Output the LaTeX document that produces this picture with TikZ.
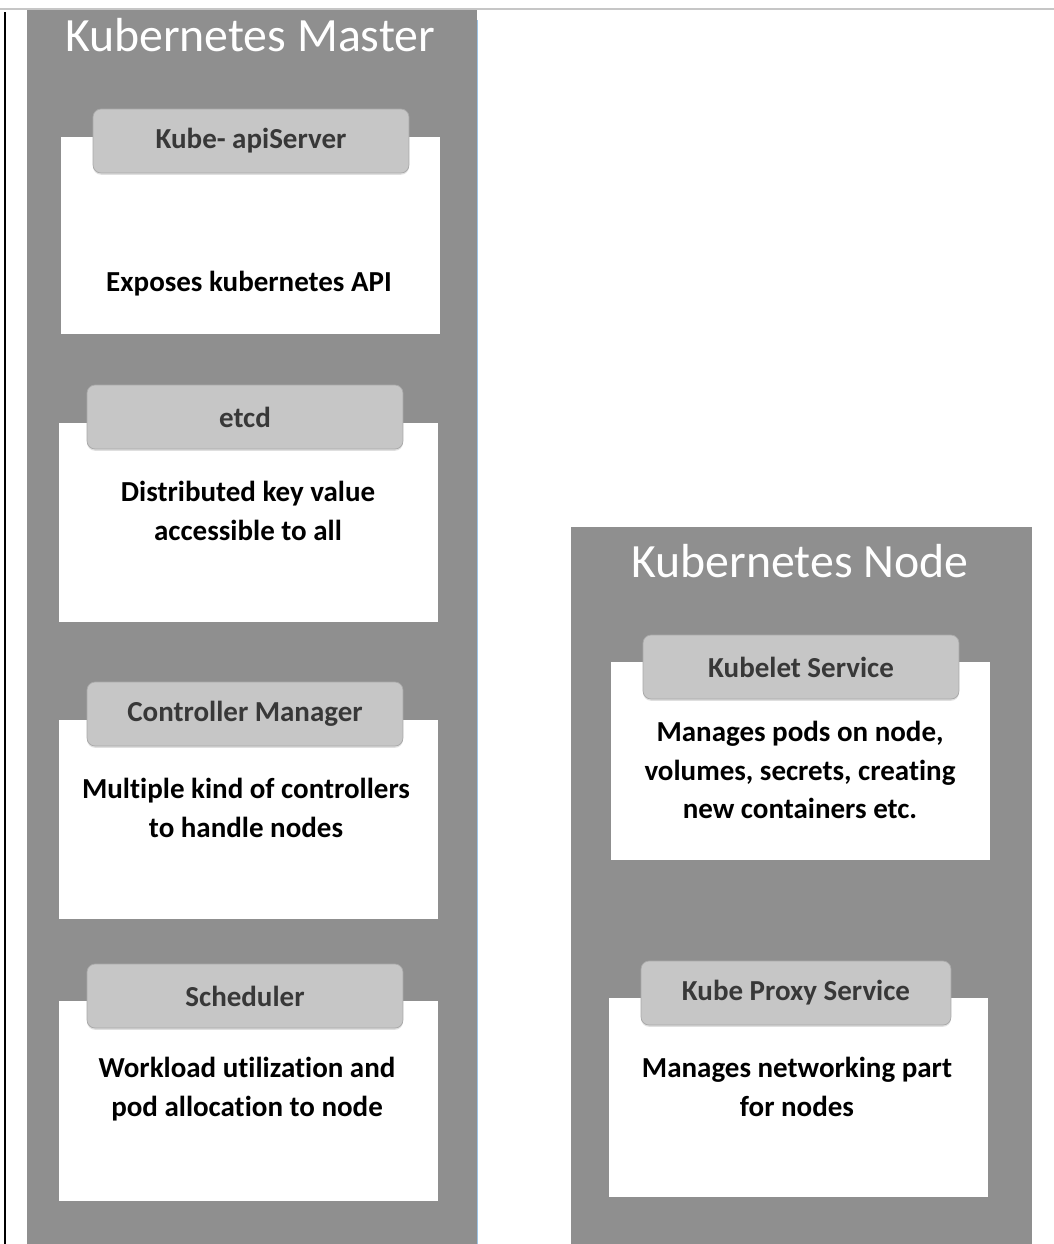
\documentclass[tikz,border=0pt]{standalone}
\usepackage{fontspec}
\setmainfont{Carlito}[Ligatures = NoCommon]
\usetikzlibrary{positioning, shadows}

\definecolor{panelgray}{HTML}{8F8F8F}
\definecolor{tabgray}{HTML}{C6C6C6}
\definecolor{tabedge}{HTML}{A9A9A9}
\definecolor{tabtext}{HTML}{383838}
\definecolor{edgeblue}{HTML}{9CC3E5}

\begin{document}
\begin{tikzpicture}[x = 0.02cm, y = -0.02cm,
						panel/.style = {fill = panelgray},
						bodybox/.style = {fill = white},
						tab/.style = {fill = tabgray, draw = tabedge, line width = 0.4pt,
							rounded corners = 0.16cm, minimum width = 6.32cm, minimum height = 1.28cm,
							text = tabtext, font = \bfseries\fontsize{16.5}{19}\selectfont,
							drop shadow = {shadow xshift = 0pt, shadow yshift = -1pt, opacity = 0.25}},
						title/.style = {text = white, font = \fontsize{27.2}{31}\selectfont},
						bodytext/.style = {align = center, font = \bfseries\fontsize{16.5}{22}\selectfont},
						]
	
		\useasboundingbox (0, 0) rectangle (1054, 1244);
		
		% Page edges
		\draw[gray!45, line width = 1pt] (0, 9) -- (1054, 9);
		\draw[black, line width = 1.2pt] (5, 12) -- (5, 1244);
		
		% Master panel
		\fill[panel] (27, 10) rectangle (477, 1244);
		\draw[edgeblue, line width = 0.8pt] (477.5, 20) -- (477.5, 1244);
		\node[title] (masterTitle) at (250, 35) {Kubernetes Master};
		
		% Node panel
		\fill[panel] (571, 527) rectangle (1032, 1244);
		\node[title] (nodeTitle) at (800, 561) {Kubernetes Node};
		
		% White bodies
		\fill[bodybox] (61, 137) rectangle (440, 334);
		\fill[bodybox] (59, 423) rectangle (438, 622);
		\fill[bodybox] (59, 720) rectangle (438, 919);
		\fill[bodybox] (59, 1001) rectangle (438, 1201);
		\fill[bodybox] (611, 662) rectangle (990, 860);
		\fill[bodybox] (609, 998) rectangle (988, 1197);
		
		% Master components
		\node[tab] (apiTab) at (251, 141) {Kube- apiServer};
		\node[bodytext] (apiText) at (249, 284) {Exposes kubernetes API};
		
		\node[tab] (etcdTab) at (245, 417) {etcd};
		\node[bodytext] (etcdText) at (248, 511) {Distributed key value\\accessible to all};
		
		\node[tab] (ctrlTab) at (245, 714) {Controller Manager};
		\node[bodytext] (ctrlText) at (246, 808) {Multiple kind of controllers\\to handle nodes};
		
		\node[tab] (schedTab) at (245, 996) {Scheduler};
		\node[bodytext] (schedText) at (247, 1089) {Workload utilization and\\pod allocation to node};
		
		% Node components
		\node[tab] (kubeletTab) at (801, 667) {Kubelet Service};
		\node[bodytext] (kubeletText) at (800, 770) {Manages pods on node,\\volumes, secrets, creating\\new containers etc.};
		
		\node[tab, minimum width = 6.2cm] (proxyTab) at (796, 993) {Kube Proxy Service};
		\node[bodytext] (proxyText) at (797, 1087) {Manages networking part\\for nodes};
		
	\end{tikzpicture}
\end{document}
